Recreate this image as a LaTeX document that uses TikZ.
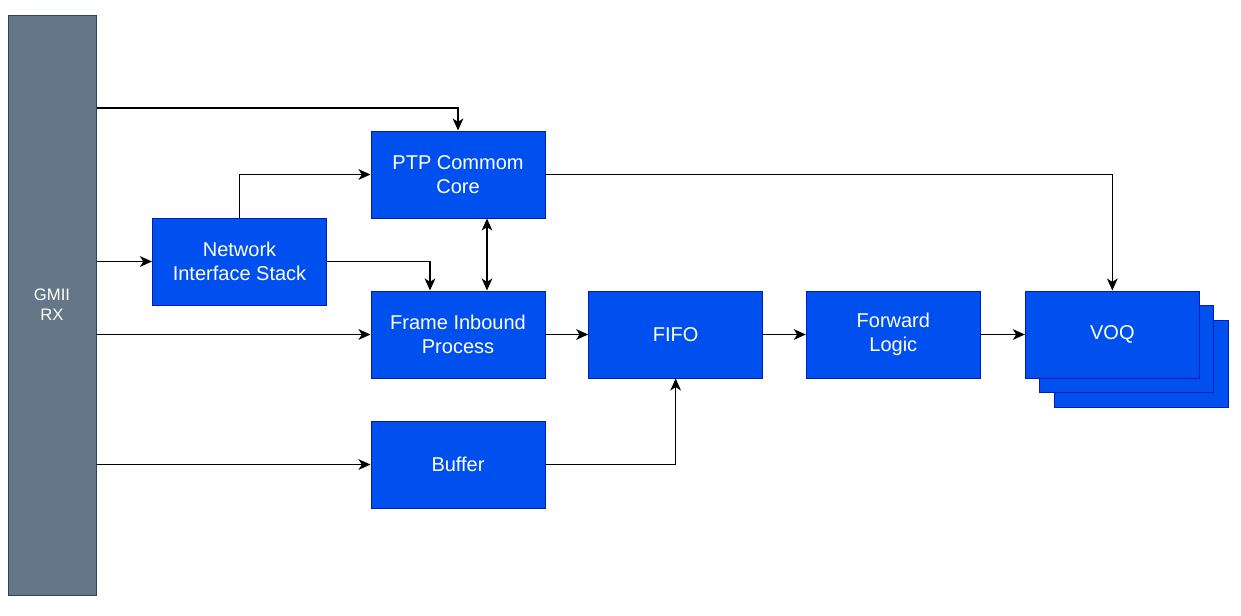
\documentclass[tikz,border=0pt]{standalone}
\usepackage{fontspec}
\setmainfont{Liberation Sans}
\usetikzlibrary{positioning, arrows.meta, calc}
\definecolor{blockfill}{HTML}{0050EF}
\definecolor{blockline}{HTML}{001DBC}
\definecolor{gmiifill}{HTML}{647687}
\definecolor{gmiiline}{HTML}{314354}
\tikzset{
    block/.style={draw=blockline, fill=blockfill, text=white, line width=0.75pt, minimum width=130.5pt, minimum height=65.25pt, align=center, inner sep=0pt, font=\fontsize{15}{18}\selectfont},
    gmii/.style={draw=gmiiline, fill=gmiifill, text=white, line width=0.75pt, minimum width=66pt, minimum height=435pt, align=center, font=\fontsize{12.5}{15}\selectfont},
    conn/.style={line width=1.1pt, -{Stealth[length=9pt, width=8pt, inset=2.5pt]}},
    biconn/.style={line width=1.1pt, {Stealth[length=9pt, width=8pt, inset=2.5pt]}-{Stealth[length=9pt, width=8pt, inset=2.5pt]}}
}

\begin{document}
\begin{tikzpicture}[x=0.75pt, y=-0.75pt]
    \useasboundingbox (0,0) rectangle (1241,615);

    % --- Receive side ---
    \node (gmii) [gmii] at (52,305) {GMII\\RX};

    % --- Blocks ---
    \node (ptp) [block] at (458,174.5) {PTP Commom\\Core};
    \node (nis) [block] at (239.5,261.5) {Network\\Interface Stack};
    \node (fip) [block] at (458,334.5) {Frame Inbound\\Process};
    \node (buf) [block] at (458,464.5) {Buffer};
    \node (fifo) [block, right=32pt of fip] {FIFO};
    \node (fwd) [block, right=32pt of fifo] {Forward\\Logic};

    % --- VOQ stack ---
    \node (voqC) [block, right=33pt of fwd, xshift=21.75pt, yshift=-21.75pt] {};
    \node (voqB) [block, right=33pt of fwd, xshift=10.9pt, yshift=-10.9pt] {};
    \node (voq) [block, right=33pt of fwd] {VOQ};

    % --- Connections ---
    \draw[conn] (gmii.east |- 0,108) -| (ptp.north);
    \draw[conn] (gmii.east |- nis.west) -- (nis.west);
    \draw[conn] (gmii.east |- fip.west) -- (fip.west);
    \draw[conn] (gmii.east |- buf.west) -- (buf.west);
    \draw[conn] (nis.north) |- (ptp.west);
    \draw[conn] (nis.east) -| ($(fip.north)+(-28,0)$);
    \draw[biconn] ($(ptp.south)+(29,0)$) -- ($(fip.north)+(29,0)$);
    \draw[conn] (fip.east) -- (fifo.west);
    \draw[conn] (buf.east) -| (fifo.south);
    \draw[conn] (fifo.east) -- (fwd.west);
    \draw[conn] (fwd.east) -- (voq.west);
    \draw[conn] (ptp.east) -| (voq.north);
\end{tikzpicture}
\end{document}
